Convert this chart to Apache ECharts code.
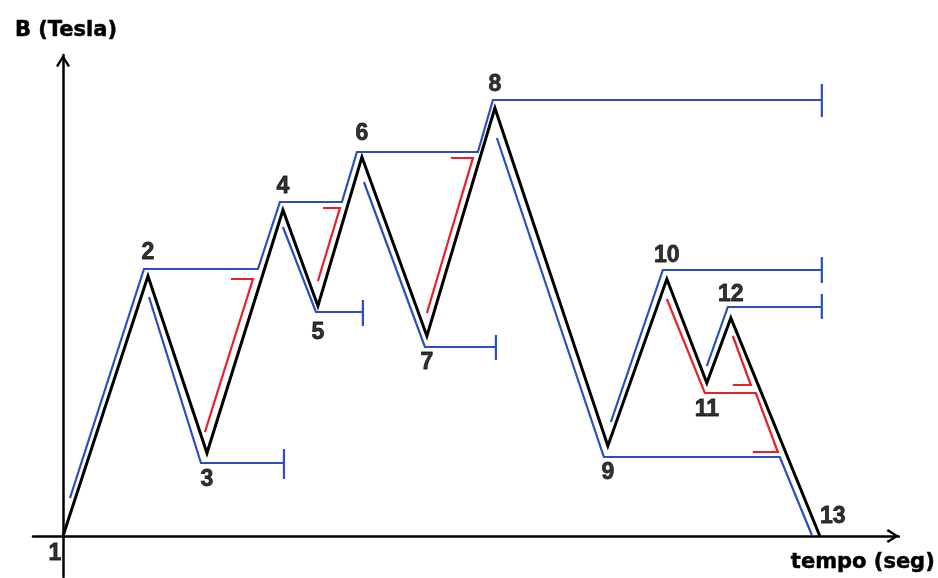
<!DOCTYPE html>
<html>
<head>
<meta charset="utf-8">
<script src="https://cdn.jsdelivr.net/npm/echarts@6/dist/echarts.min.js"></script>
<style>
html, body { margin: 0; background: #fff; }
#container { width: 938px; height: 578px; }
</style>
</head>
<body>
<div id="container"></div>
<script>
// 信号的顶点 [时间, B]
var pointNames = ['1', '2', '3', '4', '5', '6', '7', '8', '9', '10', '11', '12', '13'];
var signal = [
    [0, 0], [8.5, 26.0], [14.4, 8.3], [22.0, 32.6], [25.5, 23.0], [29.9, 37.9], [36.4, 20.0],
    [43.2, 42.8], [54.5, 9.0], [60.4, 25.7], [64.4, 15.3], [66.8, 21.8], [75.7, 0]
];

// 蓝色的雨流路径（末端带竖线）
var blueA = [[0.7, 3.8], [8.1, 26.7], [19.5, 26.7], [21.7, 33.4], [27.9, 33.4], [29.4, 38.4],
    [41.5, 38.4], [43.0, 43.6], [75.9, 43.6], [75.9, 45.2], [75.9, 41.9]];
var blueB = [[8.6, 23.9], [13.8, 7.3], [22.1, 7.3], [22.1, 8.7], [22.1, 5.7]];
var blueC = [[22.0, 30.9], [25.3, 22.4], [30.0, 22.4], [30.0, 23.6], [30.0, 21.0]];
var blueD = [[30.1, 35.4], [36.2, 18.9], [43.3, 18.9], [43.3, 20.1], [43.3, 17.6]];
var blueE = [[43.4, 39.8], [54.1, 7.9], [71.7, 7.9], [74.9, 0.1]];
var blueF = [[54.8, 11.4], [60.0, 26.6], [75.9, 26.6], [75.9, 27.9], [75.9, 25.3]];
var blueG = [[64.4, 17.0], [66.5, 22.9], [75.9, 22.9], [75.9, 24.2], [75.9, 21.7]];

// 红色的路径
var redA = [[16.8, 25.7], [19.0, 25.7], [14.2, 10.4]];
var redB = [[26.0, 32.8], [27.7, 32.8], [25.5, 25.5]];
var redC = [[38.8, 37.8], [41.0, 37.8], [36.4, 22.3]];
var redD = [[60.4, 23.7], [64.2, 14.3], [69.3, 14.3], [71.5, 8.4], [69.0, 8.4]];
var redE = [[67.0, 20.0], [68.8, 15.1], [67.0, 15.1]];

var blueColor = '#2a4fbd';
var redColor = '#e8202c';
var arrowPath = 'path://M0,11 L7,0 L14,11 L12,12.5 L7,4 L2,12.5 Z';

function pathSeries(data, color, width) {
    return {
        type: 'line',
        data: data,
        showSymbol: false,
        silent: true,
        lineStyle: { color: color, width: width, join: 'miter' }
    };
}

// 顶点编号：峰在上，谷在下
function numberData() {
    var out = [];
    for (var i = 0; i < signal.length; i++) {
        var label = {};
        if (i === 0) {
            label = { position: 'bottom', distance: 6, offset: [-8, 0] };
        } else if (i === signal.length - 1) {
            label = { position: 'top', distance: 8, offset: [13, 0] };
        } else if (signal[i][1] > signal[i - 1][1]) {
            label = { position: 'top', distance: 12 };
        } else {
            label = { position: 'bottom', distance: 15 };
        }
        out.push({ value: signal[i], name: pointNames[i], label: label });
    }
    return out;
}

var myChart = echarts.init(document.getElementById('container'));

var series = [
    pathSeries(blueA, blueColor, 2.2),
    pathSeries(blueB, blueColor, 2.2),
    pathSeries(blueC, blueColor, 2.2),
    pathSeries(blueD, blueColor, 2.2),
    pathSeries(blueE, blueColor, 2.2),
    pathSeries(blueF, blueColor, 2.2),
    pathSeries(blueG, blueColor, 2.2),
    pathSeries(redA, redColor, 2.2),
    pathSeries(redB, redColor, 2.2),
    pathSeries(redC, redColor, 2.2),
    pathSeries(redD, redColor, 2.2),
    pathSeries(redE, redColor, 2.2),
    pathSeries(signal, '#000', 3),
    {
        type: 'scatter',
        data: numberData(),
        symbolSize: 0,
        silent: true,
        label: {
            show: true,
            formatter: '{b}',
            color: '#000',
            fontFamily: 'Liberation Sans',
            fontWeight: 'bold',
            fontSize: 23,
            textBorderColor: '#000',
            textBorderWidth: 0.8
        }
    }
];

myChart.setOption({
    animation: false,
    backgroundColor: '#fff',
    grid: { left: 33, right: 39, top: 55, bottom: 1 },
    xAxis: {
        type: 'value',
        min: -3,
        max: 83.6,
        name: 'tempo (seg)',
        nameLocation: 'end',
        nameGap: -36,
        nameTextStyle: {
            color: '#000', fontFamily: 'DejaVu Sans', fontWeight: 'bold', fontSize: 21,
            align: 'center', verticalAlign: 'top', padding: [16, 0, 0, 0],
            textBorderColor: '#000', textBorderWidth: 0.5
        },
        axisLine: {
            onZero: true,
            symbol: ['none', arrowPath],
            symbolSize: [14, 13],
            symbolOffset: [0, -6],
            lineStyle: { color: '#000', width: 2.5 }
        },
        axisTick: { show: false },
        axisLabel: { show: false },
        splitLine: { show: false }
    },
    yAxis: {
        type: 'value',
        min: -4.1,
        max: 48.1,
        name: 'B (Tesla)',
        nameLocation: 'end',
        nameGap: 14,
        nameTextStyle: {
            color: '#000', fontFamily: 'DejaVu Sans', fontWeight: 'bold', fontSize: 21,
            padding: [0, 0, 0, 6],
            textBorderColor: '#000', textBorderWidth: 0.5
        },
        axisLine: {
            onZero: true,
            symbol: ['none', arrowPath],
            symbolSize: [14, 13],
            symbolOffset: [0, -6],
            lineStyle: { color: '#000', width: 2.5 }
        },
        axisTick: { show: false },
        axisLabel: { show: false },
        splitLine: { show: false }
    },
    series: series
});
</script>
</body>
</html>
